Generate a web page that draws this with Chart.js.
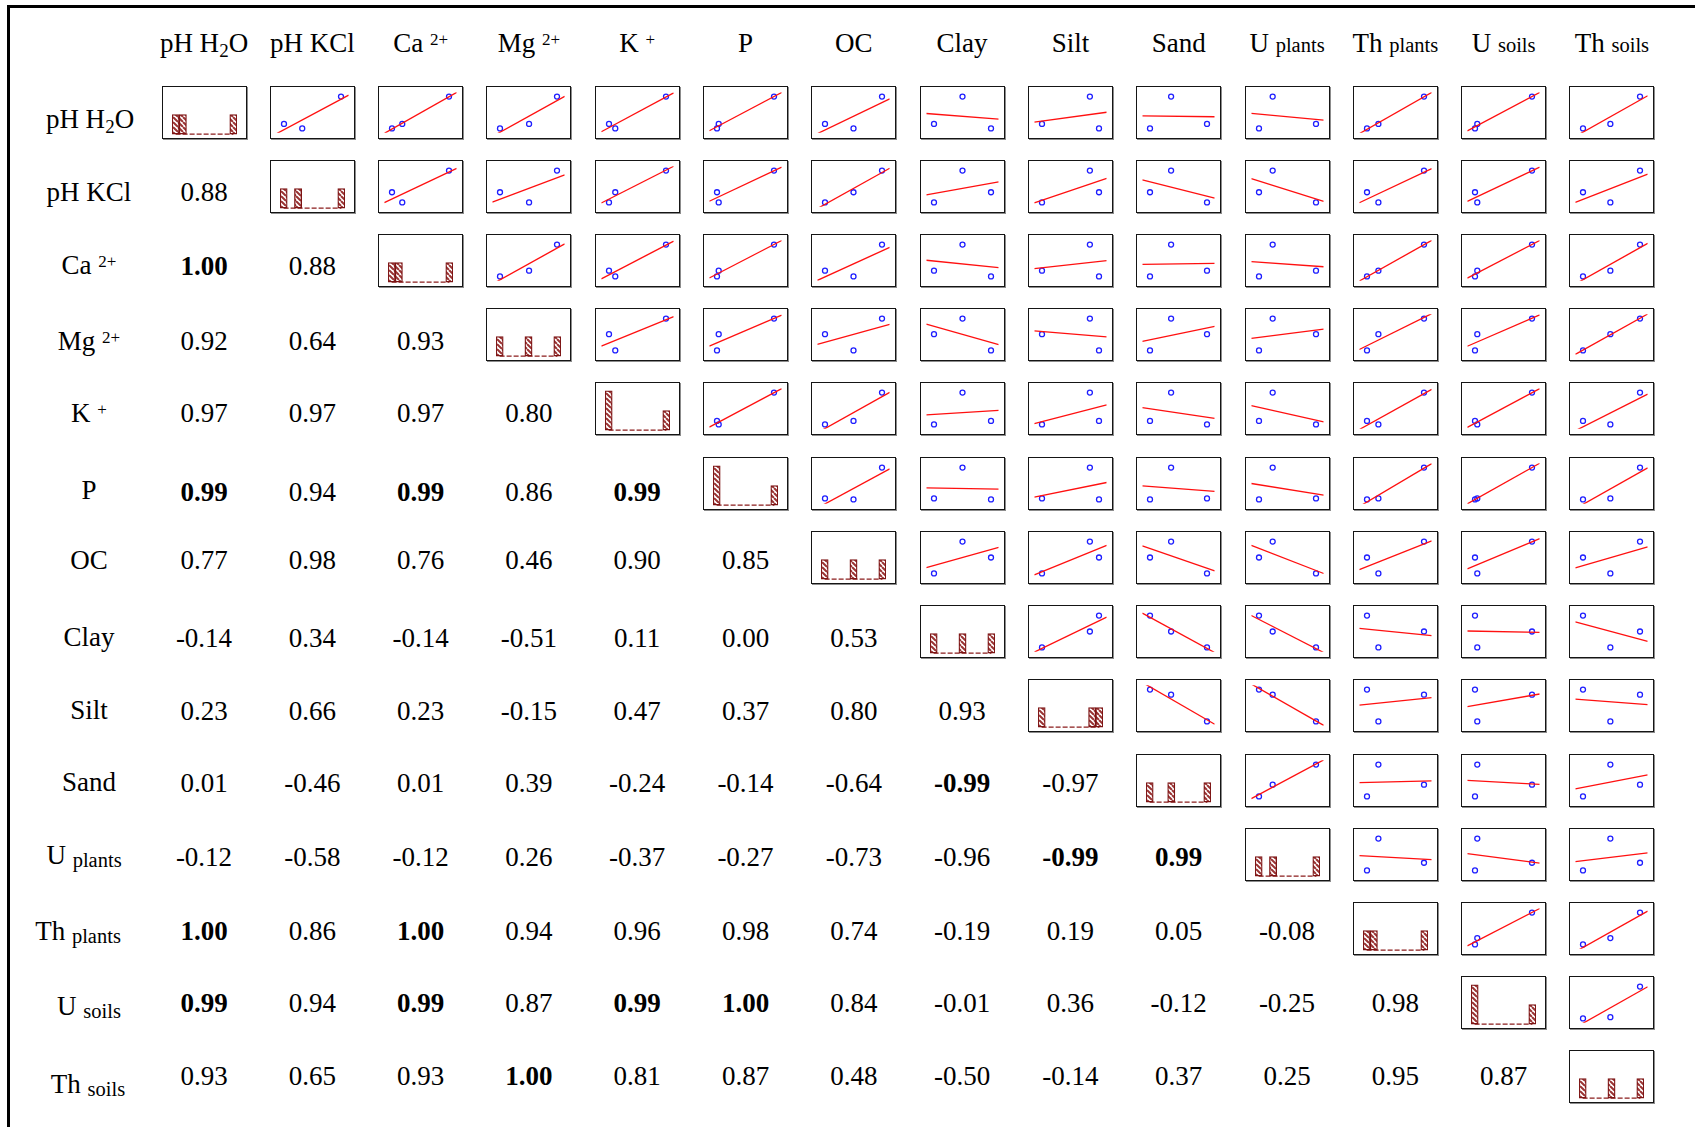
<!DOCTYPE html>
<html><head><meta charset="utf-8">
<script src="https://cdn.jsdelivr.net/npm/chart.js@4.4.1/dist/chart.umd.min.js"></script>
<style>
html,body{margin:0;padding:0;background:#fff;}
body{width:1695px;height:1127px;position:relative;overflow:hidden;font-family:"Liberation Serif","Times New Roman",serif;color:#000;}
#frame{position:absolute;left:7px;top:5px;width:1800px;height:1300px;border-top:3px solid #000;border-left:3px solid #000;}
.cell{position:absolute;box-sizing:border-box;border:1px solid #151515;box-shadow:1px 1px 0 #8c8c8c;background:#fff;}
.cell canvas{display:block;}
.txt{position:absolute;transform:translate(-50%,-50%);white-space:nowrap;line-height:1;font-size:27px;}
.sup{font-size:17px;position:relative;top:-7px;}
.sub{font-size:19px;position:relative;top:5px;}
.sm{font-size:20.5px;position:relative;}
.rowlab .sm{top:3px;}
.b{font-weight:bold;}
</style>
</head><body>
<div id="frame"></div>
<script>
// ---------- DATA (three samples, values normalised to each variable's range) ----------
const varLabels = [
  'pH H<span class="sub">2</span>O', 'pH KCl', 'Ca <span class="sup">2+</span>', 'Mg <span class="sup">2+</span>',
  'K <span class="sup">+</span>', 'P', 'OC', 'Clay', 'Silt', 'Sand',
  'U <span class="sm">plants</span>', 'Th <span class="sm">plants</span>', 'U <span class="sm">soils</span>', 'Th <span class="sm">soils</span>'
];
const pH_H2O   = [0.00, 0.14, 1.00];
const pH_KCl   = [0.32, 0.00, 1.00];
const Ca       = [0.00, 0.18, 1.00];
const Mg       = [0.00, 0.51, 1.00];
const K        = [0.11, 0.00, 1.00];
const P        = [0.00, 0.03, 1.00];
const OC       = [0.50, 0.00, 1.00];
const Clay     = [1.00, 0.00, 0.50];
const Silt     = [1.00, 0.00, 0.84];
const Sand     = [0.00, 1.00, 0.37];
const U_plants = [0.00, 1.00, 0.24];
const Th_plants= [0.00, 0.20, 1.00];
const U_soils  = [0.00, 0.04, 1.00];
const Th_soils = [0.00, 0.48, 1.00];
const variables = [pH_H2O, pH_KCl, Ca, Mg, K, P, OC, Clay, Silt, Sand, U_plants, Th_plants, U_soils, Th_soils];

// lower-triangle correlation coefficients, row by row
const corrPH_KCl   = [0.88];
const corrCa       = [1.00, 0.88];
const corrMg       = [0.92, 0.64, 0.93];
const corrK        = [0.97, 0.97, 0.97, 0.80];
const corrP        = [0.99, 0.94, 0.99, 0.86, 0.99];
const corrOC       = [0.77, 0.98, 0.76, 0.46, 0.90, 0.85];
const corrClay     = [-0.14, 0.34, -0.14, -0.51, 0.11, 0.00, 0.53];
const corrSilt     = [0.23, 0.66, 0.23, -0.15, 0.47, 0.37, 0.80, 0.93];
const corrSand     = [0.01, -0.46, 0.01, 0.39, -0.24, -0.14, -0.64, -0.99, -0.97];
const corrUplants  = [-0.12, -0.58, -0.12, 0.26, -0.37, -0.27, -0.73, -0.96, -0.99, 0.99];
const corrThplants = [1.00, 0.86, 1.00, 0.94, 0.96, 0.98, 0.74, -0.19, 0.19, 0.05, -0.08];
const corrUsoils   = [0.99, 0.94, 0.99, 0.87, 0.99, 1.00, 0.84, -0.01, 0.36, -0.12, -0.25, 0.98];
const corrThsoils  = [0.93, 0.65, 0.93, 1.00, 0.81, 0.87, 0.48, -0.50, -0.14, 0.37, 0.25, 0.95, 0.87];
const corrRows = [[], corrPH_KCl, corrCa, corrMg, corrK, corrP, corrOC, corrClay, corrSilt, corrSand,
                  corrUplants, corrThplants, corrUsoils, corrThsoils];
const histBins = 9;

// ---------- LAYOUT ----------
const N = variables.length;
const X0 = 204, DX = 108.3, Y0 = 112, DY = 74.23;
const CW = 85, CH = 53;
const rowShift = [7, 6, 5.5, 6.5, 4.5, 8.5, 2.5, 6.5, 5.5, 2.5, 2.5, 2.5, 0, -1];
const labelShift = [7, 6, 5, 6, 4, 7, 3, 5, 4, 2, 1, 2, 3, 7];
const labelDx = [1, 0, 0, 0, 0, 0, 0, 0, 0, 0, -5, -11, 0, -1];
const colX = j => X0 + j * DX;
const rowY = i => Y0 + i * DY;
const LO = -0.135, HI = 1.135;

function addText(html, x, y, cls) {
  const d = document.createElement('div');
  d.className = 'txt' + (cls ? ' ' + cls : '');
  d.innerHTML = html;
  d.style.left = x + 'px'; d.style.top = y + 'px';
  document.body.appendChild(d);
}
function addCell(i, j) {
  const d = document.createElement('div');
  d.className = 'cell';
  d.style.left = Math.round(colX(j) - CW / 2) + 'px';
  d.style.top = Math.round(rowY(i) - CH / 2) + 'px';
  d.style.width = CW + 'px'; d.style.height = CH + 'px';
  const c = document.createElement('canvas');
  c.width = CW - 2; c.height = CH - 2;
  c.style.width = (CW - 2) + 'px'; c.style.height = (CH - 2) + 'px';
  d.appendChild(c);
  document.body.appendChild(d);
  return c;
}
function hatchPattern() {
  const c = document.createElement('canvas'); c.width = 5; c.height = 5;
  const g = c.getContext('2d');
  g.fillStyle = '#ffffff'; g.fillRect(0, 0, 5, 5);
  g.strokeStyle = '#9a3434'; g.lineWidth = 2.0;
  g.beginPath();
  for (let k = -5; k <= 5; k += 5) { g.moveTo(k, 0); g.lineTo(k + 5, 5); }
  g.stroke();
  return g.createPattern(c, 'repeat');
}
const HATCH = hatchPattern();
const baseOpts = {
  responsive: false, maintainAspectRatio: false, animation: false, events: [],
  plugins: { legend: { display: false }, tooltip: { enabled: false }, title: { display: false } }
};

// headers and row labels
for (let k = 0; k < N; k++) {
  addText(varLabels[k], colX(k), 43, '');
  addText(varLabels[k], 89 + labelDx[k], rowY(k) + labelShift[k], 'rowlab');
}

for (let i = 0; i < N; i++) {
  for (let j = 0; j < N; j++) {
    if (j < i) {
      const r = corrRows[i][j];
      addText(r.toFixed(2), colX(j), rowY(i) + rowShift[i], Math.abs(r) >= 0.99 ? 'b' : '');
    } else if (j === i) {
      const v = variables[i];
      const mn = Math.min(...v), mx = Math.max(...v);
      const counts = new Array(histBins).fill(0);
      v.forEach(x => { const b = Math.min(histBins - 1, Math.floor((x - mn) / (mx - mn) * histBins + 1e-9)); counts[b]++; });
      const cv = addCell(i, j);
      new Chart(cv, {
        type: 'bar',
        data: {
          labels: counts.map((_, k) => String(k + 1)),
          datasets: [
            { type: 'line', data: counts.map(() => 0), borderColor: '#8b1c1c', borderWidth: 1.3,
              borderDash: [5, 2], pointRadius: 0, order: 2, clip: 0 },
            { data: counts.map(c => c === 0 ? null : c), backgroundColor: HATCH, borderColor: '#7d1414',
              borderWidth: 1.3, borderSkipped: false, barPercentage: 1, categoryPercentage: 1, order: 1 }
          ]
        },
        options: Object.assign({}, baseOpts, {
          layout: { padding: { left: 9, right: 9, top: 0, bottom: 0 } },
          scales: { x: { display: false }, y: { display: false, min: -0.2, max: 2.4 } }
        })
      });
    } else {
      const xs = variables[j], ys = variables[i];
      const pts = xs.map((x, k) => ({ x: x, y: ys[k] }));
      const mx = xs.reduce((a, b) => a + b, 0) / xs.length;
      const my = ys.reduce((a, b) => a + b, 0) / ys.length;
      let sxy = 0, sxx = 0;
      xs.forEach((x, k) => { sxy += (x - mx) * (ys[k] - my); sxx += (x - mx) * (x - mx); });
      const slope = sxy / sxx, icpt = my - slope * mx;
      const cv = addCell(i, j);
      new Chart(cv, {
        type: 'scatter',
        data: {
          datasets: [
            { type: 'line', data: [{ x: LO, y: icpt + slope * LO }, { x: HI, y: icpt + slope * HI }],
              borderColor: '#ff1010', borderWidth: 1.3, pointRadius: 0, clip: 0, order: 1 },
            { data: pts, pointRadius: 2.5, pointBorderWidth: 1.3, pointBorderColor: '#1f1fff',
              pointBackgroundColor: 'rgba(0,0,0,0)', showLine: false, order: 2 }
          ]
        },
        options: Object.assign({}, baseOpts, {
          layout: { padding: 0 },
          scales: { x: { type: 'linear', display: false, min: LO, max: HI },
                    y: { type: 'linear', display: false, min: LO, max: HI } }
        })
      });
    }
  }
}
</script>
</body></html>
